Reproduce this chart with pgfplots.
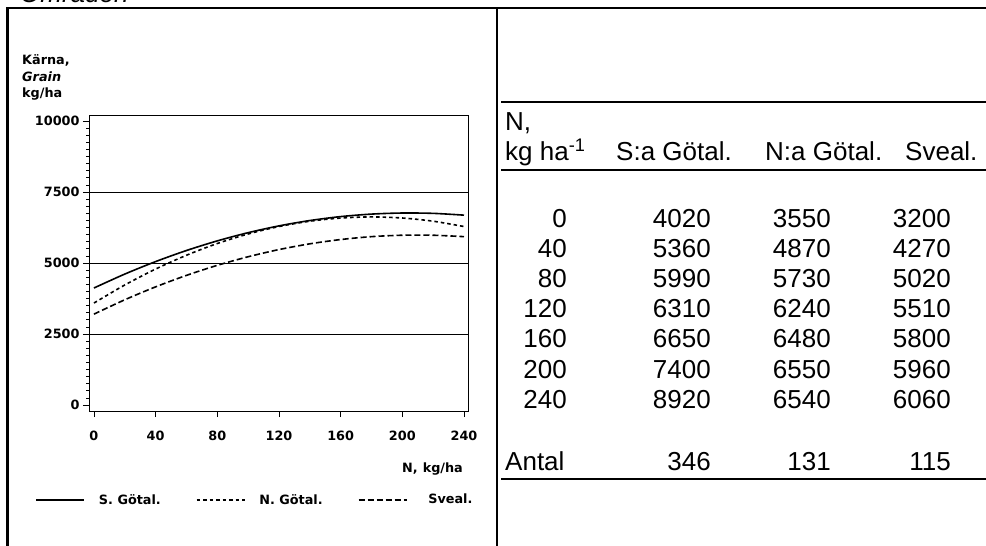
\documentclass[border=0pt]{standalone}
\usepackage{fontspec}
\setmainfont{Liberation Sans}
\newfontfamily\plotfont{DejaVu Sans}
\usepackage{pgfplots}
\pgfplotsset{compat=1.18}
\newcommand\pf{\plotfont\bfseries\fontsize{12.8bp}{17bp}\selectfont}
\newcommand\tf{\fontsize{26bp}{30bp}\selectfont}
\begin{document}
\begin{tikzpicture}
\useasboundingbox (0,0) rectangle (986bp,-546bp);
% frames
\draw[line width=2.5bp] (7.5bp,-546bp) -- (7.5bp,-8bp) -- (986bp,-8bp);
\draw[line width=2bp] (497bp,-8bp) -- (497bp,-546bp);
\draw[line width=1.8bp] (501bp,-102bp) -- (986bp,-102bp);
\draw[line width=1.8bp] (501bp,-170bp) -- (986bp,-170bp);
\draw[line width=1.8bp] (501bp,-479bp) -- (986bp,-479bp);
% cut-off title
\node[anchor=base west, inner sep=0pt, font=\tf\itshape] at (20bp,-2.5bp) {Områden};
% y label
\node[anchor=base west, inner sep=0pt, font=\pf] at (22bp,-64bp) {Kärna,};
\node[anchor=base west, inner sep=0pt, font=\pf\itshape] at (22bp,-81bp) {Grain};
\node[anchor=base west, inner sep=0pt, font=\pf] at (22bp,-97bp) {kg/ha};
% table
\begin{scope}[every node/.style={inner sep=0pt, font=\tf}]
\node[anchor=base west] at (505bp,-130bp) {N,};
\node[anchor=base west] at (505bp,-160bp) {kg ha\textsuperscript{-1}};
\node[anchor=base west] at (616bp,-160bp) {S:a Götal.};
\node[anchor=base west] at (765bp,-160bp) {N:a Götal.};
\node[anchor=base west] at (905bp,-160bp) {Sveal.};
\foreach \n/\a/\b/\c [count=\i from 0] in {0/4020/3550/3200, 40/5360/4870/4270, 80/5990/5730/5020, 120/6310/6240/5510, 160/6650/6480/5800, 200/7400/6550/5960, 240/8920/6540/6060}{
  \pgfmathsetmacro\yy{-227-30.2*\i}
  \node[anchor=base east] at (567bp,\yy bp) {\n};
  \node[anchor=base east] at (711bp,\yy bp) {\a};
  \node[anchor=base east] at (831bp,\yy bp) {\b};
  \node[anchor=base east] at (951bp,\yy bp) {\c};
}
\node[anchor=base west] at (505bp,-470bp) {Antal};
\node[anchor=base east] at (711bp,-470bp) {346};
\node[anchor=base east] at (831bp,-470bp) {131};
\node[anchor=base east] at (951bp,-470bp) {115};
\end{scope}
\begin{axis}[
  at={(89bp,-411bp)}, anchor=south west, scale only axis,
  width=379bp, height=296bp,
  xmin=-3.2, xmax=242.6, ymin=-211, ymax=10211,
  axis line style={line width=0.8bp},
  xtick={0,40,80,120,160,200,240},
  ytick={0,2500,5000,7500,10000},
  scaled y ticks=false, scaled x ticks=false,
  minor y tick num=9,
  tick align=outside, xtick pos=lower, ytick pos=left,
  major tick length=6bp, minor tick length=3bp,
  tick style={black, line width=0.8bp},
  ticklabel style={font=\pf},
  /pgf/number format/assume math mode=true,
  /pgf/number format/set thousands separator={},
  xticklabel style={yshift=-10bp},
  extra y ticks={2500,5000,7500}, extra y tick labels={},
  extra y tick style={grid=major, major tick length=0pt},
  major grid style={black, line width=0.8bp},
  xlabel={N,\hspace{5bp}kg/ha},
  xlabel style={font=\pf, at={(axis description cs:0.987,-0.196)}, anchor=east, inner sep=0pt},
  legend columns=3,
  legend style={draw=none, fill=none, inner sep=0pt, font=\pf,
    at={(axis description cs:-0.142,-0.30)}, anchor=west,
    /tikz/every even column/.append style={column sep=33bp}},
  legend cell align=left,
  legend image code/.code={\draw[#1] (0bp,0bp) -- (48bp,0bp);},
]
\addplot[black, line width=1.6bp, smooth] coordinates {
(0,4120) (20,4610) (40,5050) (60,5440) (80,5779) (100,6068) (120,6307)
(140,6495) (160,6634) (180,6722) (200,6760) (220,6748) (240,6685)};
\addlegendentry{\hspace{12bp}S. Götal.}
\addplot[black, line width=1.6bp, smooth, dash pattern=on 3.5bp off 3bp] coordinates {
(0,3590) (20,4226) (40,4787) (60,5273) (80,5686) (100,6022) (120,6284)
(140,6471) (160,6583) (180,6622) (200,6584) (220,6472) (240,6284)};
\addlegendentry{\hspace{12bp}N. Götal.}
\addplot[black, line width=1.6bp, smooth, dash pattern=on 6bp off 3bp] coordinates {
(0,3200) (20,3705) (40,4160) (60,4564) (80,4918) (100,5220) (120,5473)
(140,5675) (160,5826) (180,5928) (200,5978) (220,5978) (240,5928)};
\addlegendentry{\hspace{19bp}Sveal.}
\end{axis}
\end{tikzpicture}
\end{document}
